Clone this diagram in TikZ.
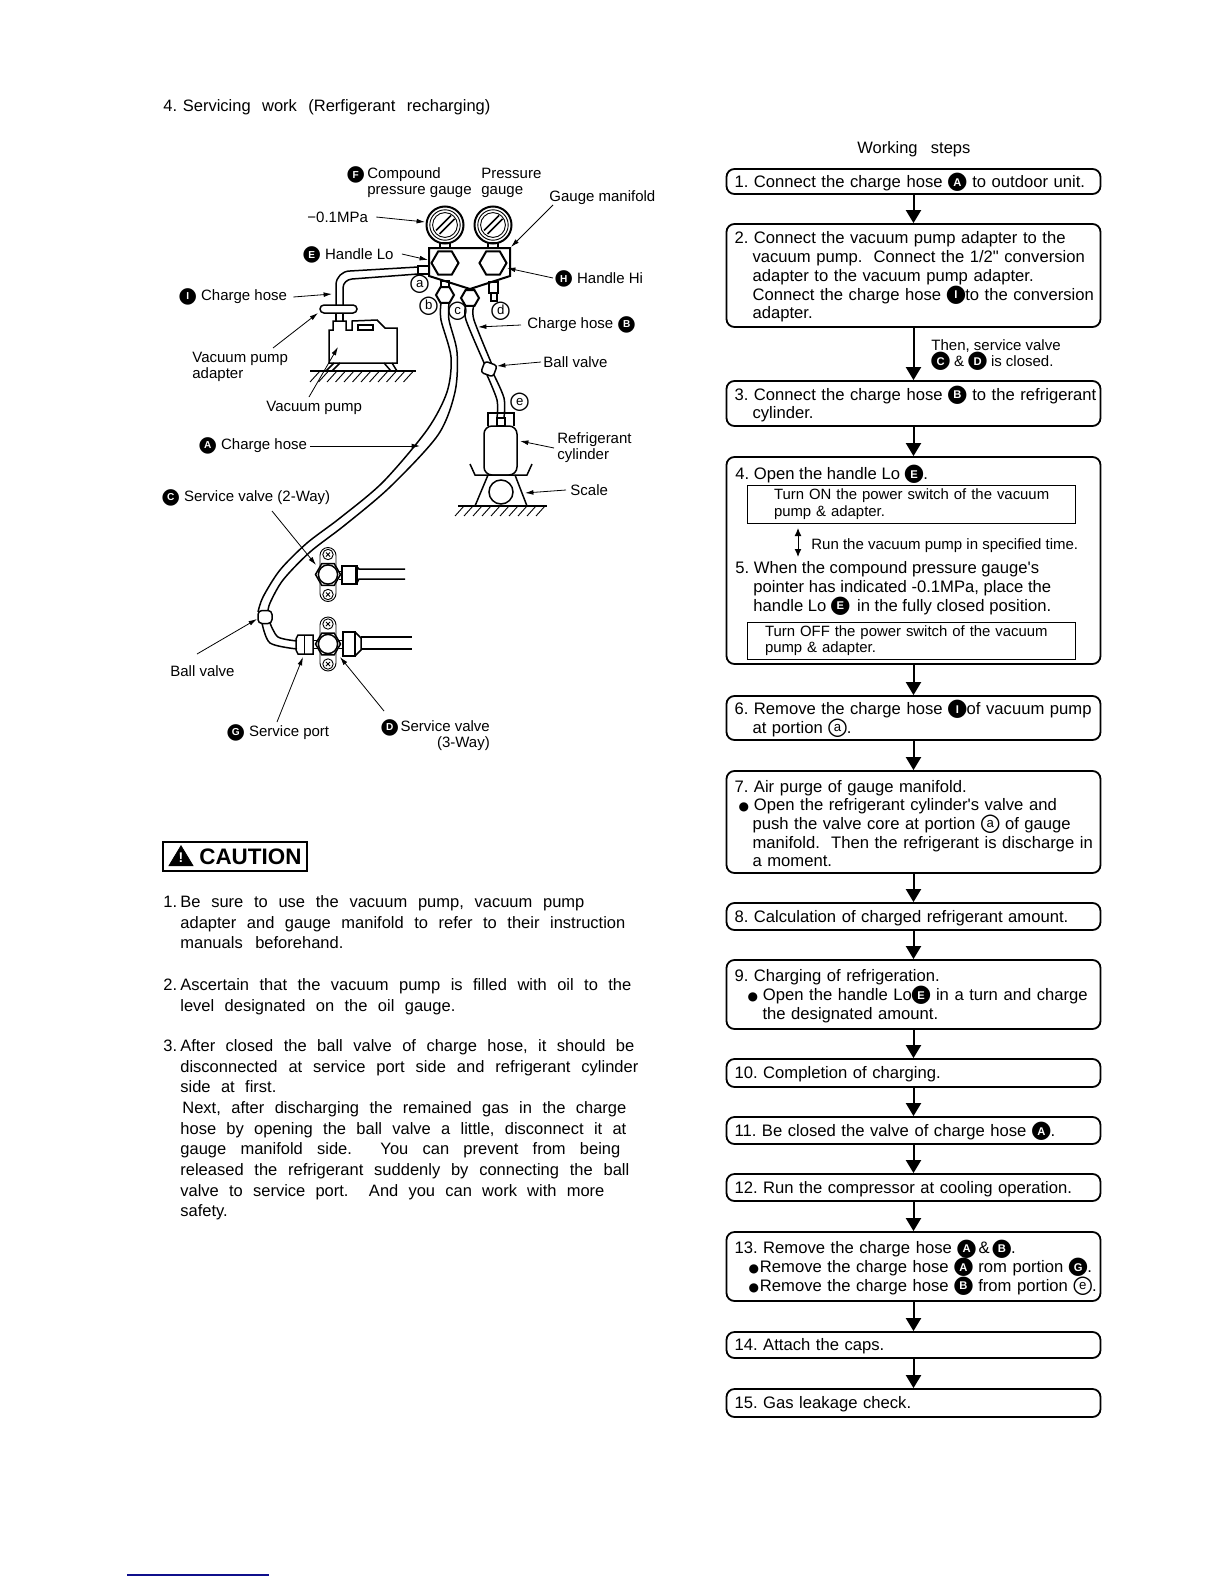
\documentclass[tikz,border=0pt]{standalone}
\usepackage{fontspec}
\setmainfont{Liberation Sans}
\newfontfamily\plainfont{Liberation Sans}
\newfontfamily\markfont{DejaVu Sans}
\usetikzlibrary{arrows.meta,calc,shapes.geometric}
\definecolor{footblue}{RGB}{15,15,140}
\newcommand{\bmark}[1]{\smash{\kern-0.6pt\raisebox{-0.7pt}{\ooalign{{\markfont\fontsize{12}{12}\selectfont ●}\cr\hfil\raisebox{1.25pt}{\textcolor{white}{\fontsize{5.6}{5.6}\selectfont\bfseries #1}}\hfil\cr}}\kern-0.6pt}}
\newcommand{\tmark}[1]{\scalebox{0.9}{\bmark{#1}}}
\newcommand{\wmark}[1]{\smash{\kern-0.6pt\raisebox{-0.7pt}{\ooalign{{\markfont\fontsize{12}{12}\selectfont ○}\cr\hfil\raisebox{1.55pt}{\fontsize{6.6}{6.6}\selectfont #1}\hfil\cr}}\kern-0.6pt}}
\newcommand{\bul}{{\markfont\fontsize{6}{6}\selectfont ●}}
\newcommand{\ind}{\hspace*{9pt}}
\newcommand{\fitline}[2]{\makebox[#1][s]{#2}}
\newcommand{\longline}[1]{\makebox[0pt][l]{#1}}
\newcommand{\apos}{{\plainfont'}}
\newcommand{\inch}{{\plainfont"}}
\frenchspacing
\tikzset{
  stepbox/.style={draw, rounded corners=4pt, line width=0.9pt, minimum width=187pt, text width=179pt, inner xsep=4pt, inner ysep=0pt, align=left, font=\fontsize{8.32}{9.35}\selectfont, execute at begin node={\rule{0pt}{7.6pt}}},
  flowarrow/.style={-{Triangle[length=6.5pt,width=7.5pt]}, line width=1pt},
  innerbox/.style={draw, line width=0.5pt, minimum width=164pt, text width=155pt, inner ysep=0pt, align=left, font=\fontsize{7.45}{8.2}\selectfont},
  leader/.style={-{Latex[length=4.2pt,width=2.4pt]}, line width=0.4pt},
  part/.style={line width=0.75pt},
  heavypart/.style={line width=1pt},
  thinpart/.style={line width=0.45pt},
  tag/.style={anchor=west, inner sep=0pt, align=left, font=\fontsize{7.5}{8.1}\selectfont},
  para/.style={anchor=north west, inner sep=0pt, align=left, font=\fontsize{8.25}{10.35}\selectfont},
  note/.style={anchor=west, inner sep=0pt, align=left, font=\fontsize{7.5}{8.2}\selectfont}
}
\begin{document}
\begin{tikzpicture}[x=0.5pt,y=-0.5pt,>=Latex]
  \useasboundingbox (0,0) rectangle (1224,1584);
  \node[para] (title) at (163,99) {\fitline{163.5pt}{4. Servicing\ \ work\ \ (Rerfigerant\ \ recharging)}};
  \node[para] (steps) at (857,141) {\fitline{56.5pt}{Working  steps}};
  % gauges and manifold
  \foreach \gx/\gn in {445/lo,493/hi} {
    \node[circle, draw, heavypart, minimum size=18.5pt, inner sep=0pt] (gauge\gn) at (\gx,225) {};
    \draw[thinpart] (\gx,225) circle (7.6pt) (\gx,225) circle (6.2pt);
    \draw[part] ($(\gx,225)+(-5.5,9)$) -- ++(15,-15) ($(\gx,225)+(-9,5.5)$) -- ++(15,-15);
    \draw[part] (\gx-5,243) rectangle (\gx+5,248);
    \node[regular polygon, regular polygon sides=6, draw, heavypart, minimum size=13.5pt, inner sep=0pt] (handle\gn) at (\gx,263) {};
  }
  \draw[heavypart] (429,248) -- (510,248) -- (510,276) -- (470,289) -- (429,276) -- cycle;
  \draw[part] (418,266) rectangle (429,274);
  \draw[part] (441,281) rectangle (449,289);
  \draw[part] (489,282) rectangle (498,293) (491,293) rectangle (497,301);
  \node[regular polygon, regular polygon sides=6, draw, heavypart, fill=white, minimum size=9pt, inner sep=0pt] (fitb) at (445,295) {};
  \node[regular polygon, regular polygon sides=6, draw, heavypart, fill=white, minimum size=9pt, inner sep=0pt] (fitc) at (470,298) {};
  % vacuum pump
  \draw[part] (418,267) -- (350,271) to[out=180,in=90] (336,285) -- (336,305);
  \draw[part] (418,274) -- (352,279) to[out=185,in=90] (343,288) -- (343,305);
  \node[draw, part, rounded corners=2pt, minimum width=18.5pt, minimum height=4pt, inner sep=0pt] (adapter) at (338.5,309) {};
  \draw[part] (336,313) -- (336,321) (343,313) -- (343,321);
  \draw[part] (329,363) -- (329,330) -- (333,330) -- (333,321) -- (346,321) -- (346,330) -- (352,330) -- (352,321) -- (377,320) -- (385,328) -- (397,328) -- (397,363) -- cycle;
  \draw[part] (358,325) rectangle (373,330);
  \draw[part] (334,363) -- (326,371) (340,363) -- (332,371) (384,363) -- (391,371) (392,363) -- (397,371);
  \draw[part] (310,371) -- (416,371);
  \foreach \hx in {310,318.5,...,410} \draw[thinpart] (\hx,382) -- (\hx+10,371);
  % hose A
  \draw[part] plot[smooth] coordinates {(441,303) (441,320) (451,357) (447,392) (427,430) (383,482) (340,518) (307,543) (280,570) (263,597) (258,612)};
  \draw[part] plot[smooth] coordinates {(449,303) (449,320) (457,352) (455,392) (438,435) (390,487) (345,525) (310,552) (283,580) (270,603) (268,612)};
  \draw[part] plot[smooth] coordinates {(262,623) (270,643) (297,649)};
  \draw[part] plot[smooth] coordinates {(270,623) (278,637) (297,641)};
  \node[draw, part, fill=white, rounded corners=2pt, minimum width=7pt, minimum height=6.5pt, inner sep=0pt] (ballA) at (265,617) {};
  % hose B and cylinder
  \draw[part] plot[smooth] coordinates {(466,305) (466,320) (485,365)};
  \draw[part] plot[smooth] coordinates {(474,305) (474,320) (493,367)};
  \draw[part] plot[smooth] coordinates {(487,375) (497,400) (497,418)};
  \draw[part] plot[smooth] coordinates {(493,373) (504,398) (504,418)};
  \node[draw, part, fill=white, rotate=-20, rounded corners=1.5pt, minimum width=6.5pt, minimum height=6pt, inner sep=0pt] (ballB) at (489,369) {};
  \draw[part] (488,426) -- (488,413) -- (514,413) -- (514,426);
  \draw[part] (497,418) rectangle (505,426);
  \node[draw, part, rounded corners=4pt, minimum width=16.5pt, minimum height=24.5pt, inner sep=0pt] (cylinder) at (500.5,450.5) {};
  \draw[part] (470,464) -- (475,475) -- (527,475) -- (532,464);
  \draw[part] (488,475) -- (475,506) (515,475) -- (527,506);
  \node[circle, draw, part, minimum size=12pt, inner sep=0pt] (scale) at (501,492) {};
  \draw[part] (458,506) -- (547,506);
  \foreach \hx in {455,464,...,540} \draw[thinpart] (\hx,516) -- (\hx+9,506);
  % service valves
  \foreach \vy/\vn in {574.5/two,644/three} {
    \node[draw, thinpart, rounded corners=4pt, minimum width=8pt, minimum height=27pt, inner sep=0pt] (plate\vn) at (328,\vy) {};
    \node[regular polygon, regular polygon sides=6, draw, part, fill=white, minimum size=12.5pt, inner sep=0pt] (hex\vn) at (328,\vy) {};
    \node[circle, draw, part, fill=white, minimum size=9.6pt, inner sep=0pt] (body\vn) at (328,\vy) {};
    \foreach \sy in {-20,20} {
      \draw[thinpart] (328,\vy+\sy) circle (2.6pt);
      \draw[thinpart] (326,\vy+\sy-2) -- ++(4,4) (326,\vy+\sy+2) -- ++(4,-4);
    }
  }
  \draw[thinpart] (339,571) -- (342,571) (339,579) -- (342,579);
  \draw[part] (342,566) rectangle (357,584);
  \draw[thinpart] (355,566) -- (355,584);
  \draw[part] (357,567) -- (359,569) -- (405,569) (357,583) -- (359,579) -- (405,579);
  \draw[part] (298,635) -- (313,635) -- (313,654) -- (298,654) -- (296,650) -- (296,639) -- cycle;
  \draw[thinpart] (304,635) -- (304,654) (313,640) -- (318,640) (313,648) -- (318,648);
  \draw[part] (343,632) rectangle (355,656);
  \draw[part] (355,632) -- (361,638) -- (361,650) -- (355,656);
  \draw[thinpart] (339,640) -- (343,640) (339,648) -- (343,648);
  \draw[part] (361,637) -- (412,637) (361,649) -- (412,649);
  % labels
  \node[tag] (compound) at (367,183) {Compound\\pressure gauge};
  \node[tag] (tagf) at (347,179) {\tmark{F}};
  \node[tag] (pressure) at (481,183) {Pressure\\gauge};
  \node[tag] (manifold) at (549,198) {Gauge manifold};
  \node[tag] (mpa) at (307,217) {−0.1MPa};
  \node[tag] (hlo) at (303,254) {\tmark{E}\,\,Handle Lo};
  \node[tag] (hhi) at (555,278) {\tmark{H}\,\,Handle Hi};
  \node[tag] (hosei) at (179,297) {\tmark{I}\,\,Charge hose};
  \node[tag] (pumpad) at (192,367) {Vacuum pump\\adapter};
  \node[tag] (pump) at (266,408) {Vacuum pump};
  \node[tag] (hoseb) at (527,325) {Charge hose\,\,\tmark{B}};
  \node[tag] (ballb) at (543,362) {Ball valve};
  \node[tag] (hosea) at (199,446) {\tmark{A}\,\,Charge hose};
  \node[tag] (cyl) at (557,448) {Refrigerant\\cylinder};
  \node[tag] (scalelbl) at (570,490) {Scale};
  \node[tag] (svc) at (162,498) {\tmark{C}\,\,Service valve (2-Way)};
  \node[tag] (ballc) at (170,671) {Ball valve};
  \node[tag] (port) at (227,733) {\tmark{G}\,\,Service port};
  \node[tag, align=right] (svd) at (381,736) {\tmark{D}\,Service valve\\(3-Way)};
  \node[tag] (pa) at (410,289) {\wmark{a}};
  \node[tag] (pb) at (419,311) {\wmark{b}};
  \node[tag] (pc) at (448,316) {\wmark{c}};
  \node[tag] (pd) at (491,316) {\wmark{d}};
  \node[tag] (pe) at (510,407) {\wmark{e}};
  % leaders
  \coordinate (mpaend) at (425,222);
  \coordinate (manifstart) at (553,205);
  \coordinate (manifend) at (511,247);
  \coordinate (loend) at (428,260);
  \coordinate (hiend) at (507,268);
  \coordinate (iend) at (332,294);
  \coordinate (adstart) at (273,348);
  \coordinate (adend) at (318,313);
  \coordinate (pumpstart) at (309,397);
  \coordinate (pumpend) at (338,347);
  \coordinate (bend) at (478,327);
  \coordinate (bvend) at (497,366);
  \coordinate (aend) at (420,446);
  \coordinate (cylend) at (520,441);
  \coordinate (scend) at (525,493);
  \coordinate (cstart) at (272,511);
  \coordinate (cend) at (316,565);
  \coordinate (avstart) at (197,654);
  \coordinate (avend) at (257,619);
  \coordinate (gstart) at (277,722);
  \coordinate (gend) at (303,657);
  \coordinate (dstart) at (384,711);
  \coordinate (dend) at (340,657);
  \draw[leader] ([xshift=4pt]mpa.east) -- (mpaend);
  \draw[leader] (manifstart) -- (manifend);
  \draw[leader] ([xshift=4pt]hlo.east) -- (loend);
  \draw[leader] ([xshift=-1pt]hhi.west) -- (hiend);
  \draw[leader] ([xshift=3pt]hosei.east) -- (iend);
  \draw[leader] (adstart) -- (adend);
  \draw[leader] (pumpstart) -- (pumpend);
  \draw[leader] ([xshift=-3pt]hoseb.west) -- (bend);
  \draw[leader] ([xshift=-1pt]ballb.west) -- (bvend);
  \draw[leader] ([xshift=1.5pt]hosea.east) -- (aend);
  \draw[leader] ([xshift=-1.5pt]cyl.west) -- (cylend);
  \draw[leader] ([xshift=-2pt]scalelbl.west) -- (scend);
  \draw[leader] (cstart) -- (cend);
  \draw[leader] (avstart) -- (avend);
  \draw[leader] (gstart) -- (gend);
  \draw[leader] (dstart) -- (dend);
  % caution
  \node[draw, line width=0.7pt, minimum width=72pt, minimum height=14.5pt, inner sep=0pt] (cautionbox) at (235,856.5) {};
  \node[draw=black, fill=black, anchor=apex, isosceles triangle, isosceles triangle apex angle=62, shape border rotate=90, minimum height=10pt, inner sep=0pt] (warn) at (181,845) {};
  \node[inner sep=0pt, font=\fontsize{7}{7}\selectfont\bfseries, text=white] (warnmark) at (181,858) {!};
  \node[inner sep=0pt, anchor=west, font=\fontsize{11.2}{11.2}\selectfont\bfseries] (cautiontxt) at (199,857) {CAUTION};
  \node[para] (c1) at (163,895) {\makebox[8.5pt][l]{1.}\fitline{202pt}{Be sure to use the vacuum pump, vacuum pump}\\
    \hspace*{8.5pt}\fitline{222.5pt}{adapter and gauge manifold to refer to their instruction}\\
    \hspace*{8.5pt}\fitline{81.5pt}{manuals beforehand.}};
  \node[para] (c2) at (163,978) {\makebox[8.5pt][l]{2.}\fitline{225.5pt}{Ascertain that the vacuum pump is filled with oil to the}\\
    \hspace*{8.5pt}\fitline{137.5pt}{level designated on the oil gauge.}};
  \node[para] (c3) at (163,1039) {\makebox[8.5pt][l]{3.}\fitline{227pt}{After closed the ball valve of charge hose, it should be}\\
    \hspace*{8.5pt}\fitline{229pt}{disconnected at service port side and refrigerant cylinder}\\
    \hspace*{8.5pt}\fitline{48pt}{side at first.}\\
    \hspace*{9.5pt}\fitline{222pt}{Next, after discharging the remained gas in the charge}\\
    \hspace*{8.5pt}\fitline{223pt}{hose by opening the ball valve a little, disconnect it at}\\
    \hspace*{8.5pt}\fitline{220pt}{gauge manifold side.\ \ You can prevent from being}\\
    \hspace*{8.5pt}\fitline{224.5pt}{released the refrigerant suddenly by connecting the ball}\\
    \hspace*{8.5pt}\fitline{212pt}{valve to service port.\ \ And you can work with more}\\
    \hspace*{8.5pt}\fitline{25pt}{safety.}};
  % working steps
  \node[stepbox, minimum height=12.5pt] (s1) at (913.5,181.5) {1. Connect the charge hose \bmark{A} to outdoor unit.};
  \node[stepbox, minimum height=51.5pt] (s2) at (913.5,275.5) {2. Connect the vacuum pump adapter to the\\\ind vacuum pump.\ \ Connect the 1/2\inch{} conversion\\\ind adapter to the vacuum pump adapter.\\\ind \longline{Connect the charge hose \bmark{I}to the conversion}\\\ind adapter.};
  \node[stepbox, minimum height=22.5pt] (s3) at (913.5,403.5) {\longline{3. Connect the charge hose \bmark{B} to the refrigerant}\\\ind cylinder.};
  \node[stepbox, minimum height=103.5pt] (s45) at (913.5,560.5) {};
  \node[stepbox, minimum height=22pt] (s6) at (913.5,718) {\longline{6. Remove the charge hose \bmark{I}of vacuum pump}\\\ind at portion \wmark{a}.};
  \node[stepbox, minimum height=51pt] (s7) at (913.5,822) {7. Air purge of gauge manifold.\\\hspace*{2pt}\bul\hspace{2.5pt}Open the refrigerant cylinder\apos{}s valve and\\\ind push the valve core at portion \wmark{a} of gauge\\\ind \longline{manifold.\ \ Then the refrigerant is discharge in}\\\ind a moment.};
  \node[stepbox, minimum height=13.5pt] (s8) at (913.5,916.5) {8. Calculation of charged refrigerant amount.};
  \node[stepbox, minimum height=34.5pt] (s9) at (913.5,994.5) {9. Charging of refrigeration.\\\hspace*{6.5pt}\bul\hspace{2.5pt}Open the handle Lo\bmark{E} in a turn and charge\\\hspace*{14pt}the designated amount.};
  \node[stepbox, minimum height=14pt] (s10) at (913.5,1073) {10. Completion of charging.};
  \node[stepbox, minimum height=13.5pt] (s11) at (913.5,1130.5) {11. Be closed the valve of charge hose \bmark{A}.};
  \node[stepbox, minimum height=13.5pt] (s12) at (913.5,1187.5) {12. Run the compressor at cooling operation.};
  \node[stepbox, minimum height=34.5pt] (s13) at (913.5,1266.5) {13. Remove the charge hose \bmark{A}\,\&\,\bmark{B}.\\\hspace*{7pt}\longline{\bul\hspace{0.5pt}Remove the charge hose \bmark{A} rom portion \bmark{G}.}\\\hspace*{7pt}\longline{\bul\hspace{0.5pt}Remove the charge hose \bmark{B} from portion \wmark{e}.}};
  \node[stepbox, minimum height=13pt] (s14) at (913.5,1345) {14. Attach the caps.};
  \node[stepbox, minimum height=14pt] (s15) at (913.5,1403) {15. Gas leakage check.};
  \node[note, font=\fontsize{8.32}{9.35}\selectfont] (s4txt) at (735,475) {4. Open the handle Lo \bmark{E}.};
  \node[innerbox, minimum height=19pt] (on) at (911,504) {\hspace*{9pt}Turn ON the power switch of the vacuum\\\hspace*{9pt}pump \& adapter.};
  \node[note] (runtxt) at (811,546) {Run the vacuum pump in specified time.};
  \coordinate (runtop) at (798,528);
  \coordinate (runbot) at (798,557);
  \draw[<->, line width=0.5pt, >={Latex[length=4pt,width=3.4pt]}] (runtop) -- (runbot);
  \node[note, font=\fontsize{8.32}{9.35}\selectfont] (s5txt) at (735,588) {5. When the compound pressure gauge\apos{}s\\\ind pointer has indicated -0.1MPa, place the\\\ind handle Lo \bmark{E}\, in the fully closed position.};
  \node[innerbox, minimum height=18.5pt] (off) at (911,640.5) {\hspace*{4.5pt}Turn OFF the power switch of the vacuum\\\hspace*{4.5pt}pump \& adapter.};
  \node[note] (closed) at (931,353) {Then, service valve\\\bmark{C} \& \bmark{D} is closed.};
  \foreach \a/\b in {s1/s2,s2/s3,s3/s45,s45/s6,s6/s7,s7/s8,s8/s9,s9/s10,s10/s11,s11/s12,s12/s13,s13/s14,s14/s15}
    \draw[flowarrow] (\a) -- (\b);
  % footer
  \coordinate (footl) at (127,1575);
  \coordinate (footr) at (269,1575);
  \draw[footblue, line width=0.6pt] (footl) -- (footr);
\end{tikzpicture}
\end{document}
